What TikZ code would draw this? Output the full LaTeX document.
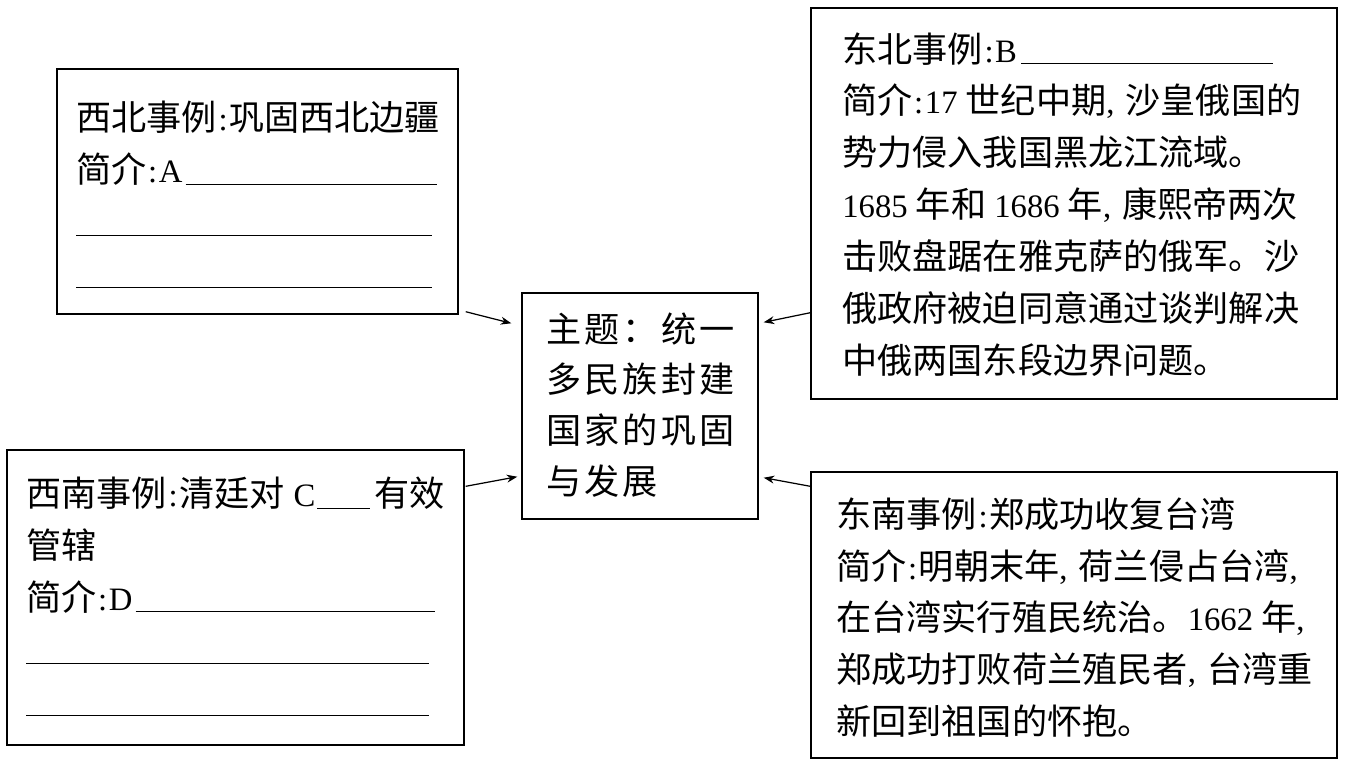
\documentclass[tikz,border=0pt]{standalone}
\usepackage{fontspec}
\setmainfont{Noto Sans CJK SC}
\newfontfamily\lat[Scale=0.93]{Liberation Serif}
\newfontfamily\spread[LetterSpace=9]{Noto Sans CJK SC}
\usetikzlibrary{positioning,arrows.meta}

\newlength\px
\setlength\px{0.02cm}
\newcommand\hcolon{\makebox[0.35em]{\lat :}}
\newcommand\hcomma{\makebox[0.55em][l]{\lat ,}}
\newcommand\blank[1]{\rule[-1pt]{#1\px}{0.5pt}}

\begin{document}
\begin{tikzpicture}[
    x=0.02cm, y=-0.02cm,
    >={Stealth[length=6pt,width=4.5pt]},
    box/.style={rectangle, draw, line width=0.8pt, inner sep=0pt},
    body/.style={anchor=north west, inner sep=0pt, align=left,
      font=\fontsize{20pt}{29.5pt}\selectfont},
    arr/.style={->, line width=0.7pt}
]
    \useasboundingbox (0,0) rectangle (1359,761);

    % frames
    \node[box, minimum width=401\px, minimum height=245\px] (nw) at (257.5,191.5) {};
    \node[box, minimum width=236\px, minimum height=226\px] (theme) at (640,406) {};
    \node[box, minimum width=457\px, minimum height=295\px] (sw) at (235.5,597.5) {};
    \node[box, minimum width=526\px, minimum height=391\px] (ne) at (1074,203.5) {};
    \node[box, minimum width=526\px, minimum height=286\px] (se) at (1074,615) {};

    % texts
    \node[body] (nwtext) at (76,101) {%
      西北事例\hcolon 巩固西北边疆\\
      简介\hcolon{\lat A}\hspace{3\px}\blank{251}\\
      \blank{356}\\
      \blank{356}};
    \node[body] (netext) at (842,32) {%
      东北事例\hcolon{\lat B}\hspace{4\px}\blank{252}\\
      简介\hcolon{\lat 17 }世纪中期\hcomma 沙皇俄国的\\
      势力侵入我国黑龙江流域。\\
      {\lat 1685 }年和{\lat\ 1686 }年\hcomma 康熙帝两次\\
      击败盘踞在雅克萨的俄军。沙\\
      俄政府被迫同意通过谈判解决\\
      中俄两国东段边界问题。};
    \node[body] (swtext) at (26,477) {%
      西南事例\hcolon 清廷对\hspace{9\px}{\lat C}\hspace{2\px}\blank{53}\hspace{4\px}有效\\
      管辖\\
      简介\hcolon{\lat D}\hspace{3\px}\blank{299}\\
      \blank{403}\\
      \blank{403}};
    \node[body] (setext) at (836,497) {%
      东南事例\hcolon 郑成功收复台湾\\
      简介\hcolon 明朝末年\hcomma 荷兰侵占台湾\hcomma\\
      在台湾实行殖民统治。{\lat 1662 }年\hcomma\\
      郑成功打败荷兰殖民者\hcomma 台湾重\\
      新回到祖国的怀抱。};
    \node[body, font=\fontsize{20pt}{29pt}\selectfont\spread] (themetext) at (546,312) {%
      主题：统一\\
      多民族封建\\
      国家的巩固\\
      与发展};

    % arrows into the theme
    \draw[arr] ([shift={(7,-3)}]nw.south east) -- ([shift={(-10,31)}]theme.north west);
    \draw[arr] ([shift={(1,37)}]sw.north east) -- ([shift={(-4,-43)}]theme.south west);
    \draw[arr] ([shift={(0,-87)}]ne.south west) -- ([shift={(5,30)}]theme.north east);
    \draw[arr] ([shift={(0,15)}]se.north west) -- ([shift={(5,-42)}]theme.south east);
\end{tikzpicture}
\end{document}
